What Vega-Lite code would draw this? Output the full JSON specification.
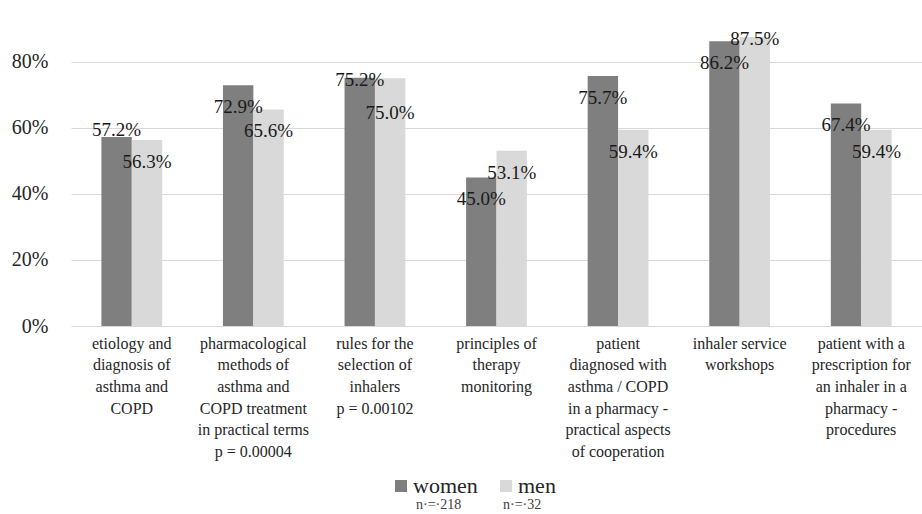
{
  "$schema": "https://vega.github.io/schema/vega-lite/v6.json",
  "autosize": {"type": "none"},
  "padding": {"left": 71, "top": 9, "right": 0, "bottom": 188},
  "width": 851,
  "height": 317,
  "background": "white",
  "config": {
    "view": {"stroke": null},
    "font": "Liberation Serif, DejaVu Serif, serif",
    "text": {"font": "Liberation Serif, DejaVu Serif, serif"},
    "axis": {"labelFont": "Liberation Serif, DejaVu Serif, serif"},
    "legend": {"labelFont": "Liberation Serif, DejaVu Serif, serif"}
  },
  "data": {
    "values": [
      {"topic": "etiology and diagnosis of asthma and COPD", "sex": "women", "n": 218, "share": 0.572},
      {"topic": "etiology and diagnosis of asthma and COPD", "sex": "men", "n": 32, "share": 0.563},
      {"topic": "pharmacological methods of asthma and COPD treatment in practical terms", "sex": "women", "n": 218, "share": 0.729},
      {"topic": "pharmacological methods of asthma and COPD treatment in practical terms", "sex": "men", "n": 32, "share": 0.656},
      {"topic": "rules for the selection of inhalers", "sex": "women", "n": 218, "share": 0.752},
      {"topic": "rules for the selection of inhalers", "sex": "men", "n": 32, "share": 0.750},
      {"topic": "principles of therapy monitoring", "sex": "women", "n": 218, "share": 0.450},
      {"topic": "principles of therapy monitoring", "sex": "men", "n": 32, "share": 0.531},
      {"topic": "patient diagnosed with asthma / COPD in a pharmacy - practical aspects of cooperation", "sex": "women", "n": 218, "share": 0.757},
      {"topic": "patient diagnosed with asthma / COPD in a pharmacy - practical aspects of cooperation", "sex": "men", "n": 32, "share": 0.594},
      {"topic": "inhaler service workshops", "sex": "women", "n": 218, "share": 0.862},
      {"topic": "inhaler service workshops", "sex": "men", "n": 32, "share": 0.875},
      {"topic": "patient with a prescription for an inhaler in a pharmacy - procedures", "sex": "women", "n": 218, "share": 0.674},
      {"topic": "patient with a prescription for an inhaler in a pharmacy - procedures", "sex": "men", "n": 32, "share": 0.594}
    ]
  },
  "encoding": {
    "x": {
      "field": "topic",
      "type": "nominal",
      "sort": null,
      "scale": {"paddingInner": 0.5, "paddingOuter": 0.25},
      "axis": {
        "title": null,
        "labelAngle": 0,
        "domain": false,
        "ticks": false,
        "labelPadding": 9,
        "labelFontSize": 16,
        "labelLineHeight": 21.7,
        "labelBaseline": "top",
        "labelOverlap": false,
        "labelLimit": 0,
        "labelColor": "#262626",
        "labelExpr": "({'etiology and diagnosis of asthma and COPD': ['etiology and', 'diagnosis of', 'asthma and', 'COPD'], 'pharmacological methods of asthma and COPD treatment in practical terms': ['pharmacological', 'methods of', 'asthma and', 'COPD treatment', 'in practical terms', 'p = 0.00004'], 'rules for the selection of inhalers': ['rules for the', 'selection of', 'inhalers', 'p = 0.00102'], 'principles of therapy monitoring': ['principles of', 'therapy', 'monitoring'], 'patient diagnosed with asthma / COPD in a pharmacy - practical aspects of cooperation': ['patient', 'diagnosed with', 'asthma / COPD', 'in a pharmacy -', 'practical aspects', 'of cooperation'], 'inhaler service workshops': ['inhaler service', 'workshops'], 'patient with a prescription for an inhaler in a pharmacy - procedures': ['patient with a', 'prescription for', 'an inhaler in a', 'pharmacy -', 'procedures']})[datum.label]"
      }
    },
    "xOffset": {
      "field": "sex",
      "type": "nominal",
      "sort": ["women", "men"],
      "scale": {"paddingInner": 0, "paddingOuter": 0}
    },
    "y": {
      "field": "share",
      "type": "quantitative",
      "scale": {"domain": [0, 0.96], "nice": false},
      "axis": {
        "title": null,
        "values": [0, 0.2, 0.4, 0.6, 0.8],
        "format": ".0%",
        "domain": false,
        "ticks": false,
        "grid": true,
        "gridColor": "#d9d9d9",
        "gridWidth": 1,
        "labelPadding": 23,
        "labelFontSize": 20,
        "labelColor": "#262626"
      }
    }
  },
  "layer": [
    {
      "mark": {"type": "bar"},
      "encoding": {
        "color": {
          "field": "sex",
          "type": "nominal",
          "scale": {"domain": ["women", "men"], "range": ["#7f7f7f", "#d9d9d9"]},
          "legend": {
            "title": null,
            "orient": "none",
            "direction": "horizontal",
            "legendX": 319,
            "legendY": 466,
            "padding": 0,
            "symbolType": "square",
            "symbolSize": 144,
            "symbolStrokeWidth": 0,
            "labelFontSize": 22,
            "labelOffset": 1,
            "columnPadding": 17,
            "labelColor": "#262626"
          }
        }
      }
    },
    {
      "mark": {"type": "bar", "opacity": 0},
      "encoding": {
        "stroke": {
          "field": "n",
          "type": "nominal",
          "scale": {"domain": [218, 32]},
          "legend": {
            "title": null,
            "orient": "none",
            "direction": "horizontal",
            "legendX": 331,
            "legendY": 489,
            "padding": 0,
            "symbolOpacity": 0,
            "symbolSize": 1,
            "labelOffset": 0,
            "labelFontSize": 14,
            "columnPadding": 27,
            "labelColor": "#404040",
            "labelExpr": "'n·=·' + datum.label"
          }
        }
      }
    },
    {
      "transform": [{"filter": "indexof([0.572, 0.752, 0.75, 0.875], datum.share) < 0"}],
      "mark": {"type": "text", "baseline": "middle", "align": "center", "dy": 22, "fontSize": 19, "color": "#1a1a1a"},
      "encoding": {"text": {"field": "share", "type": "quantitative", "format": ".1%"}}
    },
    {
      "transform": [{"filter": "datum.share == 0.572"}],
      "mark": {"type": "text", "baseline": "middle", "align": "center", "dy": -7, "fontSize": 19, "color": "#1a1a1a"},
      "encoding": {"text": {"field": "share", "type": "quantitative", "format": ".1%"}}
    },
    {
      "transform": [{"filter": "datum.share == 0.752 || datum.share == 0.875"}],
      "mark": {"type": "text", "baseline": "middle", "align": "center", "dy": 2, "fontSize": 19, "color": "#1a1a1a"},
      "encoding": {"text": {"field": "share", "type": "quantitative", "format": ".1%"}}
    },
    {
      "transform": [{"filter": "datum.share == 0.75"}],
      "mark": {"type": "text", "baseline": "middle", "align": "center", "dy": 35, "fontSize": 19, "color": "#1a1a1a"},
      "encoding": {"text": {"field": "share", "type": "quantitative", "format": ".1%"}}
    }
  ]
}
